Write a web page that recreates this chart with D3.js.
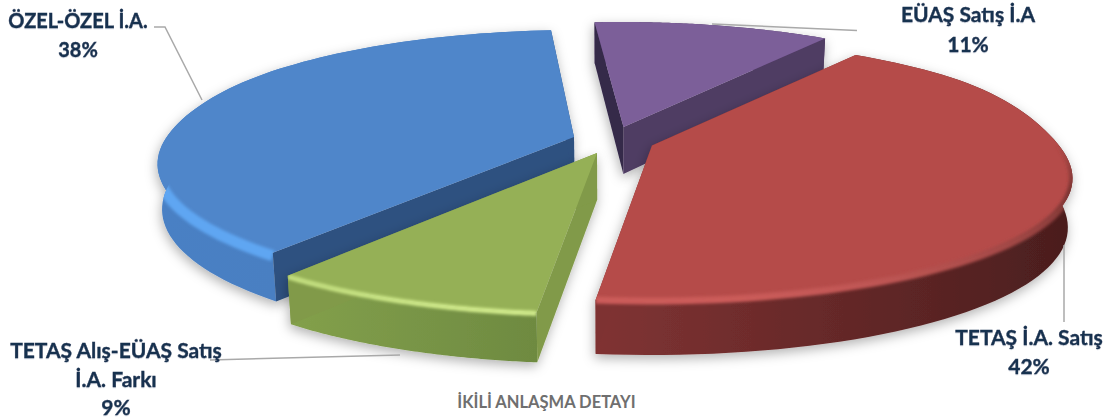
<!DOCTYPE html>
<html><head><meta charset="utf-8">
<script src="https://cdn.jsdelivr.net/npm/d3@7"></script>
<style>html,body{margin:0;padding:0;background:#fff}svg{display:block}
text{font-family:Lato,"Open Sans",sans-serif;font-weight:700}</style></head>
<body><svg id="c" width="1115" height="419"></svg>
<script>
const categories=["EÜAŞ Satış İ.A","TETAŞ İ.A. Satış","TETAŞ Alış-EÜAŞ Satış|İ.A. Farkı","ÖZEL-ÖZEL İ.A."];
const shares=[11,42,9,38];
const title="İKİLİ ANLAŞMA DETAYI";
// style/layout (per slice)
const apexes=[[623.5,127],[652,145.5],[597,153],[574,137]];
const rimShift=[[-2,0],[0,-2],[-4,3],[4,-2]];
const rimSag=[8,9,8,3];
const depthBase=[47,48,44,44];
const topColors=["#7b5e99","#b54c49","#95b057","#4f86ca"];
const wallA=["#35294a","#7e3232","#819a48","#2e5180"]; // start-side wall
const wallB=["#503c63","#7e3232","#819a48","#2e5180"]; // end-side wall
const rimL=["#503c63","#803333","#83a04b","#4a80c4"];
const rimR=["#503c63","#4b1e1e","#6e8a41","#4a7dbd"];
const bevelLow=[null,"#cc5c5a","#d4ee8e","#5ea6f2"];
const bevelHigh=[null,"#7a3432","#c4e080","#5ea6f2"];
const bevelW=[0,7,5,11];
const bevelDy=[0,0,1,3];
const drawOrder=[0,3,1,2];
const labelPos=[[968,22,30],[1029,345,29],[116,358,28.5],[78,28,29]];
const labelSize=[21,21,21,20];
const leaders=[[[712,24],[857,30.5]],[[1064,245],[1064,322]],[[210,360],[400,355]],[[154,27],[165,27],[202,100]]];

const R=412,Rt=126,k=0.2,cxV=610;
const sx=d3.scaleLinear().domain([0,1]).range([0,R]);
const sy=d3.scaleLinear().domain([0,1]).range([0,Rt]);
function rimPt(ap,a,drop,sh,base,sag){
  const u=Math.sin(a),v=-Math.cos(a),s=1/(1-k*v);
  let x=ap[0]+sh[0]+sx(u*s),y=ap[1]+sh[1]+sy(v*s);
  const w=Math.min(1,Math.max(0,(v+0.6)/0.6));
  y+=sag*u*u*w*w*(3-2*w);
  if(drop){x=cxV+(x-cxV)*0.99;y+=base+6*v;}
  return [x,y];
}
const svg=d3.select("#c");
const defs=svg.append("defs");
const sh=defs.append("filter").attr("id","sh").attr("x","-10%").attr("y","-10%").attr("width","120%").attr("height","125%");
sh.append("feDropShadow").attr("dx",-1).attr("dy",4).attr("stdDeviation",6).attr("flood-color","#000").attr("flood-opacity",0.3);
defs.append("filter").attr("id","bl").attr("x","-5%").attr("y","-20%").attr("width","110%").attr("height","140%")
  .append("feGaussianBlur").attr("stdDeviation",1.8);
defs.append("filter").attr("id","ts").attr("x","-5%").attr("y","-20%").attr("width","110%").attr("height","140%")
  .append("feDropShadow").attr("dx",0).attr("dy",0.5).attr("stdDeviation",0.7).attr("flood-color","#7f8fa8").attr("flood-opacity",0.6);

const line=d3.line();
const slices=d3.pie().sort(null).startAngle(-4.5*Math.PI/180).endAngle(355.5*Math.PI/180)(shares);

drawOrder.forEach(i=>{
  const d=slices[i];
  const ap=apexes[i],n=80;
  const as=d3.range(n+1).map(j=>d.startAngle+(d.endAngle-d.startAngle)*j/n);
  const top=as.map(a=>rimPt(ap,a,false,rimShift[i],depthBase[i],rimSag[i])), low=as.map(a=>rimPt(ap,a,true,rimShift[i],depthBase[i],rimSag[i]));
  const apLow=[ap[0]+(ap[0]-cxV)*-0.01,ap[1]+47];
  const g=svg.append("g");
  const body=g.append("g").attr("filter","url(#sh)");
  const xs=low.map(p=>p[0]);
  const gr=defs.append("linearGradient").attr("id","rim"+i).attr("gradientUnits","userSpaceOnUse")
    .attr("x1",d3.min(xs)).attr("x2",d3.max(xs)).attr("y1",0).attr("y2",0);
  gr.append("stop").attr("offset",0).attr("stop-color",rimL[i]);
  gr.append("stop").attr("offset",1).attr("stop-color",rimR[i]);
  const rimPath=line(top.concat(low.slice().reverse()))+"Z";
  const topPath=line([ap].concat(top))+"Z";
  body.append("path").attr("d",rimPath).attr("fill",`url(#rim${i})`);
  body.append("path").attr("d",line([ap,top[0],low[0],apLow])+"Z").attr("fill",wallA[i]);
  body.append("path").attr("d",line([ap,top[n],low[n],apLow])+"Z").attr("fill",wallB[i]);
  body.append("path").attr("d",topPath).attr("fill",topColors[i]);
  if(bevelLow[i]){
    defs.append("clipPath").attr("id","cp"+i).call(c=>{c.append("path").attr("d",rimPath);c.append("path").attr("d",topPath);});
    const vis=top.filter((p,j)=>-Math.cos(as[j])>-0.1).map(p=>[p[0],p[1]+bevelDy[i]]);
    const by=vis.map(p=>p[1]);
    const bg=defs.append("linearGradient").attr("id","bv"+i).attr("gradientUnits","userSpaceOnUse")
      .attr("x1",0).attr("x2",0).attr("y1",d3.min(by)).attr("y2",d3.max(by));
    bg.append("stop").attr("offset",0).attr("stop-color",bevelHigh[i]).attr("stop-opacity",i===2?1:0);
    bg.append("stop").attr("offset",0.3).attr("stop-color",bevelHigh[i]).attr("stop-opacity",1);
    bg.append("stop").attr("offset",1).attr("stop-color",bevelLow[i]).attr("stop-opacity",1);
    g.append("g").attr("clip-path",`url(#cp${i})`).append("path")
      .attr("d",line(vis)).attr("fill","none").attr("stroke",`url(#bv${i})`).attr("stroke-width",bevelW[i]).attr("filter","url(#bl)");
  }
});
leaders.forEach(p=>svg.append("path").attr("d",line(p)).attr("fill","none").attr("stroke","#a9a9a9").attr("stroke-width",1.5));
categories.forEach((c,i)=>{
  const [x,y,dy]=labelPos[i];
  const lines=c.split("|").concat(shares[i]+"%");
  const t=svg.append("text").attr("text-anchor","middle").attr("font-size",labelSize[i]).attr("fill","#17304f")
    .attr("stroke","#17304f").attr("stroke-width",0.35).attr("filter","url(#ts)");
  lines.forEach((l,j)=>t.append("tspan").attr("x",x).attr("y",y+j*dy).text(l));
});
svg.append("text").attr("x",546.5).attr("y",408).attr("text-anchor","middle").attr("font-size",16.5).attr("fill","#6f6f6f").text(title);
</script></body></html>
